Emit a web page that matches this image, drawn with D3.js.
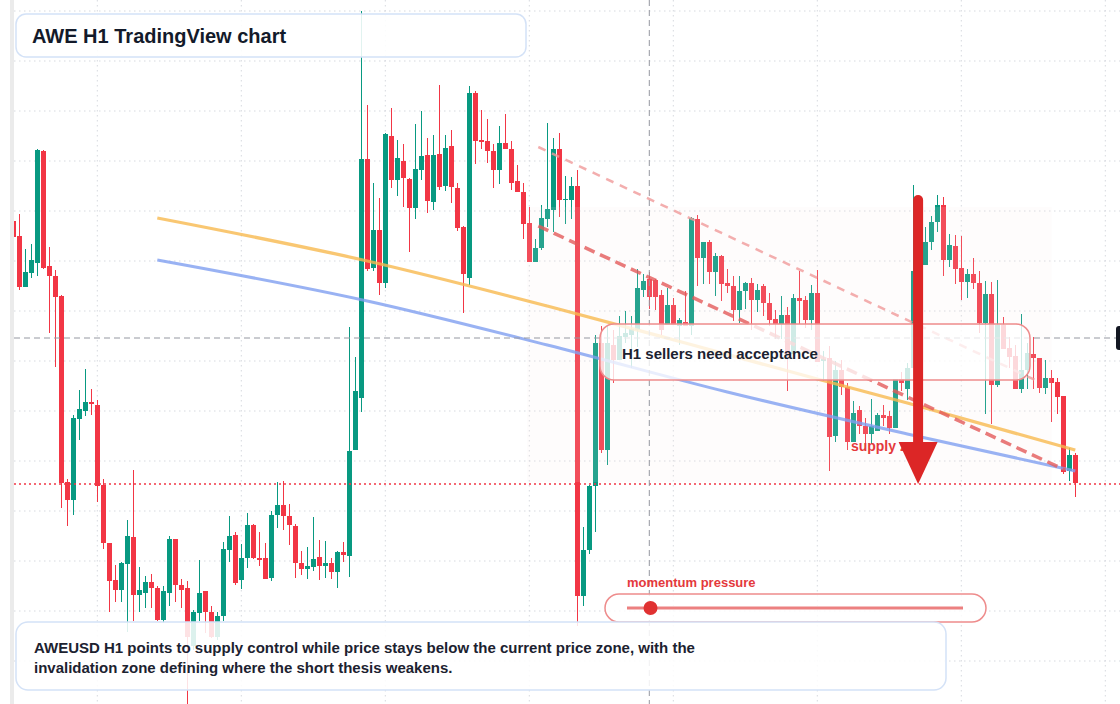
<!DOCTYPE html>
<html>
<head>
<meta charset="utf-8">
<title>AWE H1 TradingView chart</title>
<script src="https://cdn.jsdelivr.net/npm/d3@7"></script>
<style>
  html, body { margin: 0; padding: 0; background: #fff; overflow: hidden; }
  svg { display: block; font-family: "Liberation Sans", Arial, sans-serif; }
</style>
</head>
<body>
<svg width="1120" height="704"></svg>
<script>
// AWEUSD H1 candles (USD), oldest first
const open = [0.08190,0.08175,0.08124,0.08138,0.08148,0.08260,0.08145,0.08135,0.08115,0.07929,
  0.07911,0.07992,0.08000,0.08009,0.08006,0.07926,0.07868,0.07831,0.07821,0.07847,
  0.07874,0.07816,0.07818,0.07829,0.07823,0.07791,0.07818,0.07872,0.07826,0.07823,
  0.07765,0.07798,0.07820,0.07799,0.07774,0.07795,0.07861,0.07876,0.07831,0.07853,
  0.07886,0.07853,0.07853,0.07833,0.07896,0.07906,0.07895,0.07885,0.07848,0.07842,
  0.07844,0.07854,0.07845,0.07848,0.07839,0.07859,0.07855,0.07961,0.08013,0.08252,
  0.08143,0.08181,0.08128,0.08275,0.08231,0.08250,0.08232,0.08203,0.08241,0.08256,
  0.08209,0.08257,0.08225,0.08265,0.08223,0.08184,0.08133,0.08318,0.08271,0.08270,
  0.08260,0.08241,0.08268,0.08262,0.08230,0.08219,0.08188,0.08149,0.08163,0.08192,
  0.08201,0.08262,0.08211,0.08211,0.08225,0.07815,0.07861,0.07925,0.08068,0.07961,
  0.08066,0.08051,0.08074,0.08076,0.08081,0.08121,0.08132,0.08131,0.08116,0.08086,
  0.08106,0.08085,0.08089,0.08085,0.08192,0.08153,0.08169,0.08139,0.08155,0.08128,
  0.08125,0.08101,0.08120,0.08128,0.08111,0.08125,0.08108,0.08092,0.08087,0.08096,
  0.08057,0.08113,0.08111,0.08091,0.08118,0.08050,0.08053,0.07975,0.08041,0.08024,
  0.07969,0.08001,0.07985,0.07977,0.07980,0.07996,0.07995,0.07983,0.08032,0.08022,
  0.08043,0.08140,0.08146,0.08169,0.08189,0.08206,0.08151,0.08165,0.08143,0.08129,
  0.08137,0.08128,0.08088,0.08117,0.08026,0.08086,0.08063,0.08055,0.08022,0.08041,
  0.08057,0.08053,0.08023,0.08033,0.08029,0.08015,0.07940,0.07956];
const high = [0.08193,0.08197,0.08162,0.08167,0.08262,0.08261,0.08164,0.08141,0.08116,0.07932,
  0.07996,0.08021,0.08042,0.08022,0.08011,0.07932,0.07868,0.07846,0.07849,0.07891,
  0.07941,0.07844,0.07835,0.07837,0.07825,0.07825,0.07875,0.07872,0.07832,0.07830,
  0.07801,0.07851,0.07820,0.07805,0.07799,0.07869,0.07895,0.07879,0.07867,0.07898,
  0.07887,0.07879,0.07868,0.07900,0.07929,0.07930,0.07907,0.07887,0.07860,0.07864,
  0.07894,0.07871,0.07870,0.07853,0.07860,0.07869,0.08084,0.08054,0.08400,0.08306,
  0.08228,0.08213,0.08278,0.08303,0.08271,0.08267,0.08233,0.08287,0.08300,0.08273,
  0.08276,0.08326,0.08276,0.08281,0.08228,0.08185,0.08325,0.08320,0.08301,0.08292,
  0.08267,0.08285,0.08297,0.08270,0.08246,0.08228,0.08204,0.08172,0.08206,0.08288,
  0.08273,0.08278,0.08235,0.08234,0.08241,0.07884,0.07926,0.08076,0.08085,0.08085,
  0.08081,0.08095,0.08100,0.08095,0.08142,0.08137,0.08139,0.08132,0.08121,0.08123,
  0.08113,0.08093,0.08120,0.08194,0.08196,0.08169,0.08171,0.08158,0.08156,0.08142,
  0.08135,0.08135,0.08129,0.08133,0.08127,0.08127,0.08118,0.08101,0.08115,0.08104,
  0.08117,0.08140,0.08115,0.08126,0.08141,0.08060,0.08065,0.08050,0.08051,0.08028,
  0.08010,0.08005,0.07993,0.08012,0.07998,0.08006,0.08000,0.08032,0.08039,0.08048,
  0.08226,0.08161,0.08184,0.08195,0.08216,0.08214,0.08177,0.08176,0.08175,0.08142,
  0.08153,0.08140,0.08130,0.08129,0.08131,0.08094,0.08074,0.08066,0.08097,0.08068,
  0.08074,0.08053,0.08051,0.08041,0.08033,0.08015,0.07963,0.07958];
const low = [0.08171,0.08121,0.08124,0.08133,0.08135,0.08142,0.08078,0.08044,0.07903,0.07885,
  0.07896,0.07971,0.07995,0.07996,0.07909,0.07862,0.07799,0.07809,0.07809,0.07779,
  0.07790,0.07799,0.07803,0.07803,0.07790,0.07788,0.07805,0.07809,0.07803,0.07707,
  0.07761,0.07790,0.07778,0.07773,0.07771,0.07790,0.07849,0.07826,0.07822,0.07843,
  0.07852,0.07845,0.07832,0.07830,0.07883,0.07881,0.07866,0.07833,0.07836,0.07832,
  0.07840,0.07831,0.07833,0.07832,0.07823,0.07849,0.07834,0.07961,0.07999,0.08140,
  0.08140,0.08116,0.08123,0.08223,0.08215,0.08204,0.08159,0.08192,0.08231,0.08198,
  0.08201,0.08221,0.08220,0.08208,0.08180,0.08098,0.08126,0.08247,0.08262,0.08248,
  0.08223,0.08227,0.08262,0.08221,0.08219,0.08172,0.08149,0.08149,0.08161,0.08184,
  0.08179,0.08194,0.08187,0.08192,0.07785,0.07805,0.07857,0.07879,0.07958,0.07946,
  0.08028,0.08051,0.08068,0.08043,0.08064,0.08114,0.08102,0.08101,0.08076,0.08086,
  0.08086,0.08066,0.08085,0.08076,0.08125,0.08127,0.08127,0.08115,0.08110,0.08118,
  0.08090,0.08088,0.08102,0.08081,0.08099,0.08095,0.08085,0.08072,0.08072,0.08020,
  0.08057,0.08087,0.08083,0.08081,0.08049,0.08030,0.07940,0.07969,0.08016,0.07961,
  0.07969,0.07977,0.07965,0.07967,0.07980,0.07985,0.07977,0.07983,0.08020,0.08011,
  0.08043,0.08129,0.08146,0.08161,0.08179,0.08135,0.08144,0.08127,0.08111,0.08113,
  0.08122,0.08078,0.07997,0.07987,0.08024,0.08062,0.08043,0.08022,0.08018,0.08022,
  0.08022,0.08018,0.08017,0.07989,0.07997,0.07937,0.07930,0.07914];
const close = [0.08174,0.08124,0.08139,0.08151,0.08261,0.08143,0.08135,0.08114,0.07928,0.07911,
  0.07993,0.08002,0.08009,0.08007,0.07925,0.07868,0.07830,0.07821,0.07848,0.07875,
  0.07816,0.07821,0.07829,0.07823,0.07791,0.07820,0.07872,0.07826,0.07821,0.07774,
  0.07799,0.07818,0.07799,0.07774,0.07795,0.07862,0.07875,0.07828,0.07853,0.07886,
  0.07853,0.07851,0.07832,0.07896,0.07906,0.07895,0.07886,0.07848,0.07842,0.07845,
  0.07852,0.07845,0.07848,0.07839,0.07859,0.07856,0.07960,0.08020,0.08252,0.08142,
  0.08181,0.08128,0.08277,0.08231,0.08253,0.08233,0.08203,0.08242,0.08255,0.08210,
  0.08256,0.08224,0.08263,0.08224,0.08183,0.08137,0.08318,0.08270,0.08269,0.08260,
  0.08241,0.08268,0.08262,0.08228,0.08219,0.08187,0.08149,0.08163,0.08193,0.08202,
  0.08262,0.08211,0.08212,0.08225,0.07815,0.07861,0.07925,0.08068,0.07961,0.08068,
  0.08051,0.08075,0.08078,0.08082,0.08123,0.08130,0.08114,0.08114,0.08081,0.08106,
  0.08086,0.08091,0.08085,0.08193,0.08153,0.08169,0.08139,0.08155,0.08127,0.08125,
  0.08101,0.08120,0.08128,0.08111,0.08121,0.08108,0.08091,0.08087,0.08096,0.08057,
  0.08113,0.08110,0.08091,0.08118,0.08049,0.08052,0.07974,0.08041,0.08024,0.07969,
  0.07998,0.07985,0.07977,0.07985,0.07996,0.07993,0.07983,0.08032,0.08028,0.08043,
  0.08140,0.08146,0.08169,0.08189,0.08206,0.08151,0.08166,0.08142,0.08129,0.08137,
  0.08128,0.08088,0.08117,0.08026,0.08086,0.08062,0.08054,0.08022,0.08041,0.08058,
  0.08053,0.08023,0.08033,0.08028,0.08014,0.07939,0.07956,0.07928];

// grid: price levels and the candle index of each day start
const priceGrid = [0.0840,0.0835,0.0830,0.0825,0.0820,0.0815,0.0810,0.0805,0.0800,0.0795,0.0790,0.0785,0.0780,0.0775];
const dayStarts = [14, 38, 62, 86, 110, 134, 158, 182];

// moving averages, sampled at candle indexes
const slowMaIdx = [24, 59, 89, 112, 134, 149, 177];
const slowMa = [0.08193, 0.08150, 0.08105, 0.08068, 0.08032, 0.08008, 0.07961];
const fastMaIdx = [24, 59, 89, 119, 149, 177];
const fastMa = [0.08151, 0.08110, 0.08066, 0.08019, 0.07977, 0.07940];

// descending channel [index, price]
const channelUpper = [[87.5, 0.08264], [170.3, 0.08031]];
const channelLower = [[87.5, 0.08185], [175.3, 0.07941]];

// supply zone box, crosshair, levels
const zoneIdx = [85.6, 173.1];
const zonePrice = [0.08204, 0.07929];
const crossIdx = 106;
const crossPrice = 0.08073;
const lastLevel = 0.07927;
const arrowIdx = 150.8;
const arrowPrice = [0.08216, 0.07927];
const momentum = 0.07;

const title = "AWE H1 TradingView chart";
const callout = "H1 sellers need acceptance";
const summary = ["AWEUSD H1 points to supply control while price stays below the current price zone, with the",
  "invalidation zone defining where the short thesis weakens."];

const up = "#089981", down = "#f23645";

const svg = d3.select("svg");
const W = 1120, H = 704;

const x = d3.scaleLinear().domain([0, open.length - 1]).range([13.3, 1075.3]);
const y = d3.scaleLinear().domain([0.08411, 0.07707]).range([0, H]);

const candles = open.map((o, i) => ({ i, o, h: high[i], l: low[i], c: close[i] }));

svg.append("rect").attr("width", W).attr("height", H).attr("fill", "#fff");

svg.append("defs").append("clipPath").attr("id", "plot")
  .append("rect").attr("x", 14).attr("y", 0).attr("width", W - 14).attr("height", H);

// left pane border
svg.append("rect").attr("x", 10).attr("y", 0).attr("width", 4).attr("height", H).attr("fill", "#ebebeb");

// grid
const grid = svg.append("g").attr("stroke", "#d6d9df").attr("stroke-dasharray", "1.5,3.5");
grid.selectAll(".h").data(priceGrid).enter().append("line")
  .attr("x1", 14).attr("x2", W).attr("y1", d => y(d)).attr("y2", d => y(d));
grid.selectAll(".v").data(dayStarts).enter().append("line")
  .attr("x1", d => x(d)).attr("x2", d => x(d)).attr("y1", 0).attr("y2", H);

const plot = svg.append("g").attr("clip-path", "url(#plot)");

// candles
const bodyW = 4.6;
const cg = plot.append("g").attr("shape-rendering", "crispEdges");
cg.selectAll(".wick").data(candles).enter().append("rect")
  .attr("x", d => x(d.i) - 0.5)
  .attr("y", d => y(d.h))
  .attr("width", 1)
  .attr("height", d => y(d.l) - y(d.h))
  .attr("fill", d => d.c >= d.o ? up : down);
cg.selectAll(".body").data(candles).enter().append("rect")
  .attr("x", d => x(d.i) - bodyW / 2)
  .attr("y", d => y(Math.max(d.o, d.c)))
  .attr("width", bodyW)
  .attr("height", d => Math.max(1, Math.abs(y(d.o) - y(d.c))))
  .attr("fill", d => d.c >= d.o ? up : down);

// supply zone shading
plot.append("rect")
  .attr("x", x(zoneIdx[0])).attr("width", x(zoneIdx[1]) - x(zoneIdx[0]))
  .attr("y", y(zonePrice[0])).attr("height", y(zonePrice[1]) - y(zonePrice[0]))
  .attr("fill", "#f7ebe4").attr("opacity", 0.13);

// moving averages
const maLine = d3.line().x(d => x(d[0])).y(d => y(d[1])).curve(d3.curveMonotoneX);
plot.append("path").datum(slowMaIdx.map((d, k) => [d, slowMa[k]]))
  .attr("d", maLine).attr("fill", "none")
  .attr("stroke", "#f8b94f").attr("stroke-opacity", 0.8).attr("stroke-width", 3.2);
plot.append("path").datum(fastMaIdx.map((d, k) => [d, fastMa[k]]))
  .attr("d", maLine).attr("fill", "none")
  .attr("stroke", "#7f9ff0").attr("stroke-opacity", 0.8).attr("stroke-width", 3);

// channel
const straight = d3.line().x(d => x(d[0])).y(d => y(d[1]));
plot.append("path").datum(channelUpper).attr("d", straight).attr("fill", "none")
  .attr("stroke", "#f09a9a").attr("stroke-opacity", 0.8).attr("stroke-width", 2.5).attr("stroke-dasharray", "8,7");
plot.append("path").datum(channelLower).attr("d", straight).attr("fill", "none")
  .attr("stroke", "#e45a5a").attr("stroke-opacity", 0.8).attr("stroke-width", 3.5).attr("stroke-dasharray", "11,6");

// last level and crosshair
svg.append("line").attr("x1", 14).attr("x2", W).attr("y1", y(lastLevel)).attr("y2", y(lastLevel))
  .attr("stroke", down).attr("stroke-width", 1.3).attr("stroke-dasharray", "2,3");
svg.append("line").attr("x1", 14).attr("x2", W).attr("y1", y(crossPrice)).attr("y2", y(crossPrice))
  .attr("stroke", "#9598a1").attr("stroke-dasharray", "6,4");
svg.append("line").attr("x1", x(crossIdx)).attr("x2", x(crossIdx)).attr("y1", 0).attr("y2", H)
  .attr("stroke", "#9598a1").attr("stroke-dasharray", "6,4");
svg.append("rect").attr("x", 1116).attr("y", y(crossPrice) - 12).attr("width", 30).attr("height", 24)
  .attr("rx", 3).attr("fill", "#131722");

// zone label
svg.append("text").attr("x", x(139.6)).attr("y", y(zonePrice[1]) - 31)
  .attr("fill", "#e4393c").attr("font-size", 14).attr("font-weight", "bold").text("supply zone");

// callout
svg.append("rect").attr("x", 600).attr("y", 324).attr("width", 430).attr("height", 56).attr("rx", 14)
  .attr("fill", "#fff").attr("fill-opacity", 0.78).attr("stroke", "#ee8c8c").attr("stroke-width", 1.5);
svg.append("text").attr("x", 622).attr("y", 359).attr("font-size", 15).attr("font-weight", "bold")
  .attr("fill", "#1c2230").text(callout);

// arrow
const ax = x(arrowIdx), aTop = y(arrowPrice[0]), aTip = y(arrowPrice[1]), headLen = 42;
svg.append("path")
  .attr("d", `M${ax - 5},${aTip - headLen} L${ax - 5},${aTop + 5} A5,5 0 0 1 ${ax + 5},${aTop + 5} L${ax + 5},${aTip - headLen} Z`)
  .attr("fill", "#dc2626");
svg.append("path")
  .attr("d", `M${ax - 19.5},${aTip - headLen} L${ax + 19.5},${aTip - headLen} L${ax},${aTip} Z`)
  .attr("fill", "#dc2626");

// title
svg.append("rect").attr("x", 16).attr("y", 14).attr("width", 510).attr("height", 43).attr("rx", 10)
  .attr("fill", "#fff").attr("fill-opacity", 0.88).attr("stroke", "#d4e2f7").attr("stroke-width", 1.5);
svg.append("text").attr("x", 32).attr("y", 43).attr("font-size", 20).attr("font-weight", "bold")
  .attr("fill", "#131a2a").text(title);

// momentum gauge
const m = d3.scaleLinear().domain([0, 1]).range([627, 963]);
svg.append("text").attr("x", 627).attr("y", 587).attr("font-size", 13).attr("font-weight", "bold")
  .attr("fill", "#e4393c").text("momentum pressure");
svg.append("rect").attr("x", 605).attr("y", 594).attr("width", 381).attr("height", 28).attr("rx", 14)
  .attr("fill", "#fff").attr("fill-opacity", 0.8).attr("stroke", "#ee8c8c").attr("stroke-width", 1.5);
svg.append("line").attr("x1", m(0)).attr("x2", m(1)).attr("y1", 608).attr("y2", 608)
  .attr("stroke", "#ec8080").attr("stroke-width", 3);
svg.append("circle").attr("cx", m(momentum)).attr("cy", 608).attr("r", 7).attr("fill", "#e03131");

// summary
svg.append("rect").attr("x", 16).attr("y", 622).attr("width", 930).attr("height", 68).attr("rx", 12)
  .attr("fill", "#fff").attr("fill-opacity", 0.86).attr("stroke", "#d4e2f7").attr("stroke-width", 1.5);
svg.append("g").selectAll("text").data(summary).enter().append("text")
  .attr("x", 34).attr("y", (d, k) => 653 + k * 20)
  .attr("font-size", 15).attr("font-weight", "bold").attr("fill", "#1c2230")
  .text(d => d);
</script>
</body>
</html>
